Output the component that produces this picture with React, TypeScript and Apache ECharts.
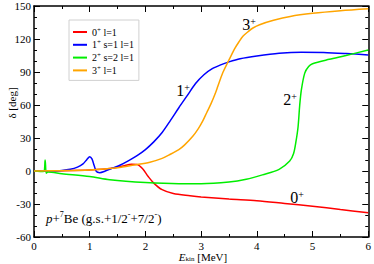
import React, { useEffect, useRef } from "react";
import * as echarts from "echarts";

const FONT = "Liberation Serif";

// 0+ l=1 (red)
const zeroE = [0, 0.5, 1.0, 1.4, 1.6, 1.75, 1.85, 1.95, 2.05, 2.15, 2.3, 2.5, 2.8, 3.0, 3.5, 4.0, 4.5, 5.0, 5.5, 6.0];
const zeroD = [0, 0.3, 1, 2.5, 4.5, 6.2, 6.0, 2, -5, -11, -17, -20.5, -22.5, -23.6, -25.5, -27, -29.5, -32, -35, -38];

// 1+ s=1 l=1 (blue)
const oneE = [0, 0.3, 0.5, 0.65, 0.78, 0.88, 0.95, 1.0, 1.04, 1.08, 1.12, 1.18, 1.28, 1.4, 1.55, 1.7, 1.85, 2.0, 2.15, 2.3, 2.45, 2.6, 2.75, 2.9, 3.05, 3.2, 3.35, 3.5, 3.7, 4.0, 4.4, 4.8, 5.2, 5.6, 6.0];
const oneD = [0, 0.1, 0.5, 1.5, 3.5, 6.5, 10.5, 13, 11, 5, -0.5, -1.5, 0, 2.5, 5.5, 9.5, 14, 19.5, 26.5, 35, 46, 57.5, 68.5, 79.5, 87.5, 93, 96.5, 99.2, 102, 104.5, 107, 108, 107.8, 106.8, 105.5];

// 2+ s=2 l=1 (green)
const twoE = [0, 0.17, 0.2, 0.22, 0.25, 0.5, 1.0, 1.36, 2.0, 2.6, 3.0, 3.5, 3.81, 4.1, 4.4, 4.59, 4.66, 4.7, 4.74, 4.77, 4.8, 4.86, 4.93, 5.0, 5.3, 5.6, 6.0];
const twoD = [0, -0.5, 10, -2, -1, -2.5, -5, -8, -10.5, -11.5, -11.5, -10, -7.5, -3.5, 1.5, 9, 16, 26, 40, 60, 74, 89, 95, 97.5, 101.5, 105, 110];

// 3+ l=1 (orange)
const threeE = [0, 0.5, 1.0, 1.5, 1.8, 2.08, 2.3, 2.44, 2.6, 2.7, 2.85, 2.95, 3.03, 3.1, 3.18, 3.25, 3.3, 3.39, 3.48, 3.55, 3.6, 3.68, 3.75, 3.85, 3.93, 4.05, 4.3, 4.6, 5.0, 5.5, 6.0];
const threeD = [0, 0.3, 1, 3, 5.5, 8, 11.5, 15, 19.5, 23.5, 31.5, 38.5, 45.5, 53, 61.5, 70, 77, 89.5, 99, 106, 111, 117.5, 122.5, 127, 130, 133, 137, 140.5, 143.3, 145.7, 147.5];

const seriesNames = ["0+ l=1", "1+ s=1 l=1", "2+ s=2 l=1", "3+ l=1"];
const seriesStates = ["0", "1", "2", "3"];
const seriesRest = [" l=1", " s=1 l=1", " s=2 l=1", " l=1"];
const seriesColors = ["#ff0000", "#0000ff", "#00ee00", "#ffa500"];

const zip = (xs: number[], ys: number[]) => xs.map((x, i) => [x, ys[i]]);

export default function App() {
  const ref = useRef<HTMLDivElement>(null);
  useEffect(() => {
    document.body.style.margin = "0";
    const chart = echarts.init(ref.current!, null, { renderer: "svg" });
    const datasets = [zip(zeroE, zeroD), zip(oneE, oneD), zip(twoE, twoD), zip(threeE, threeD)];
    const supStyle = { fontFamily: FONT, fontSize: 7, verticalAlign: "top", color: "#000", lineHeight: 12 };
    const nStyle = { fontFamily: FONT, fontSize: 10, color: "#000", lineHeight: 12 };
    const tickCommon = {
      axisLine: { show: true, onZero: false, lineStyle: { color: "#000", width: 1.5 } },
      axisTick: { show: true, inside: true, length: 6, lineStyle: { color: "#000", width: 1 } },
      minorTick: { show: true, length: 3, lineStyle: { color: "#000", width: 1 } },
      splitLine: { show: false },
    };
    const bigSup = { fontFamily: FONT, fontSize: 10, verticalAlign: "top", color: "#000", lineHeight: 16 };
    const bigN = { fontFamily: FONT, fontSize: 16, color: "#000", lineHeight: 16 };
    chart.setOption({
      animation: false,
      textStyle: { fontFamily: FONT },
      grid: { left: 34, right: 4, top: 6, bottom: 27 },
      xAxis: [
        {
          type: "value", min: 0, max: 6, interval: 1, position: "bottom",
          ...tickCommon,
          minorTick: { ...tickCommon.minorTick, splitNumber: 2 },
          axisLabel: { fontFamily: FONT, fontSize: 11, color: "#000", margin: 3 },
        },
        {
          type: "value", min: 0, max: 6, interval: 1, position: "top",
          ...tickCommon,
          minorTick: { ...tickCommon.minorTick, splitNumber: 2 },
          axisLabel: { show: false },
        },
      ],
      yAxis: [
        {
          type: "value", min: -60, max: 150, interval: 30, position: "left",
          ...tickCommon,
          minorTick: { ...tickCommon.minorTick, splitNumber: 3 },
          axisLabel: { fontFamily: FONT, fontSize: 11, color: "#000", margin: 3 },
        },
        {
          type: "value", min: -60, max: 150, interval: 30, position: "right",
          ...tickCommon,
          minorTick: { ...tickCommon.minorTick, splitNumber: 3 },
          axisLabel: { show: false },
        },
      ],
      legend: {
        orient: "vertical",
        left: 69,
        top: 20,
        padding: [6, 5, 5, 4],
        itemGap: 1.8,
        itemWidth: 14,
        itemHeight: 2,
        icon: "rect",
        selectedMode: false,
        borderColor: "#d0d0d0",
        borderWidth: 1,
        data: seriesNames,
        formatter: (name: string) => {
          const i = seriesNames.indexOf(name);
          return `{n|${seriesStates[i]}}{sup|+}{n|${seriesRest[i]}}`;
        },
        textStyle: { fontFamily: FONT, fontSize: 10, color: "#000", rich: { n: nStyle, sup: supStyle } },
      },
      series: datasets.map((d, i) => ({
        name: seriesNames[i],
        type: "line",
        data: d,
        showSymbol: false,
        symbol: "none",
        smooth: 0.3,
        color: seriesColors[i],
        lineStyle: { color: seriesColors[i], width: 1.5 },
        z: 2 + i,
      })),
      graphic: [
        {
          type: "text", x: 12, y: 103, rotation: Math.PI / 2,
          style: { text: "δ [deg]", fontFamily: FONT, fontSize: 11, fill: "#000", align: "center", verticalAlign: "middle" },
        },
        {
          type: "text", x: 203, y: 257,
          style: {
            text: "{e|E}{s|kin}{r| [MeV]}", align: "center", verticalAlign: "middle",
            rich: {
              e: { fontFamily: FONT, fontSize: 11, fontStyle: "italic", fill: "#000", lineHeight: 11 },
              r: { fontFamily: FONT, fontSize: 11, fill: "#000", lineHeight: 11 },
              s: { fontFamily: FONT, fontSize: 7, fill: "#000", verticalAlign: "bottom", lineHeight: 11 },
            },
          },
        },
        {
          type: "text", x: 249, y: 24,
          style: { text: "{n|3}{s|+}", align: "center", verticalAlign: "middle", rich: { n: bigN, s: bigSup } },
        },
        {
          type: "text", x: 183, y: 90,
          style: { text: "{n|1}{s|+}", align: "center", verticalAlign: "middle", rich: { n: bigN, s: bigSup } },
        },
        {
          type: "text", x: 290, y: 99,
          style: { text: "{n|2}{s|+}", align: "center", verticalAlign: "middle", rich: { n: bigN, s: bigSup } },
        },
        {
          type: "text", x: 297, y: 197,
          style: { text: "{n|0}{s|+}", align: "center", verticalAlign: "middle", rich: { n: bigN, s: bigSup } },
        },
        {
          type: "text", x: 46, y: 218,
          style: {
            text: "{i|p}{n|+}{s|7}{n|Be (g.s.+1/2}{s|-}{n|+7/2}{s|-}{n|)}",
            align: "left", verticalAlign: "middle",
            rich: {
              i: { fontFamily: FONT, fontSize: 13, fontStyle: "italic", fill: "#000", lineHeight: 15 },
              n: { fontFamily: FONT, fontSize: 13, fill: "#000", lineHeight: 15 },
              s: { fontFamily: FONT, fontSize: 8, fill: "#000", verticalAlign: "top", lineHeight: 15 },
            },
          },
        },
      ],
    });
    return () => chart.dispose();
  }, []);
  return <div ref={ref} style={{ width: 374, height: 264 }} />;
}
